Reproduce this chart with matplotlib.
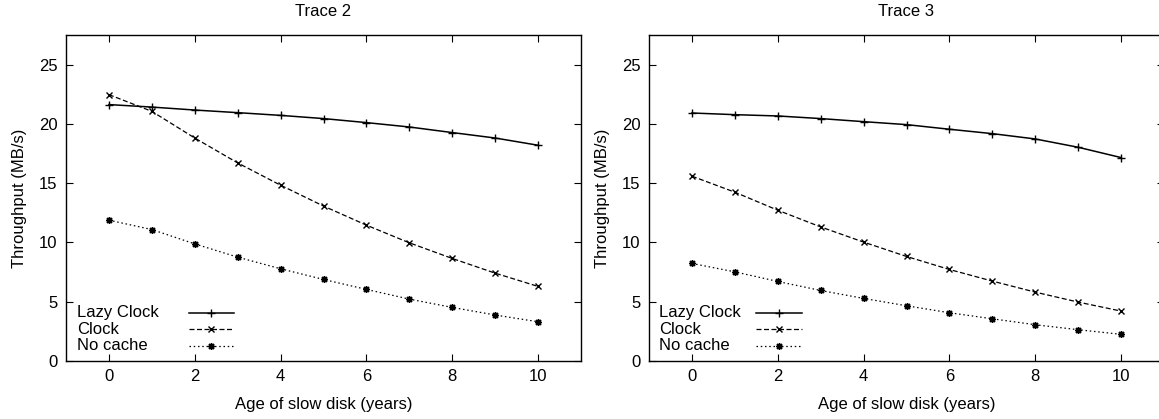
import matplotlib
matplotlib.use("Agg")
import matplotlib.pyplot as plt
from matplotlib.lines import Line2D

plt.rcParams['font.family'] = ['Liberation Sans', 'DejaVu Sans']

ages = [0, 1, 2, 3, 4, 5, 6, 7, 8, 9, 10]
series_names = ["Lazy Clock", "Clock", "No cache"]

trace2_lazy = [21.63, 21.42, 21.17, 20.95, 20.72, 20.45, 20.11, 19.74, 19.27, 18.81, 18.20]
trace2_clock = [22.47, 21.06, 18.81, 16.71, 14.83, 13.07, 11.46, 9.97, 8.65, 7.41, 6.29]
trace2_nocache = [11.88, 11.09, 9.88, 8.76, 7.78, 6.88, 6.04, 5.22, 4.52, 3.88, 3.31]

trace3_lazy = [20.92, 20.78, 20.67, 20.45, 20.19, 19.94, 19.55, 19.18, 18.73, 18.03, 17.16]
trace3_clock = [15.59, 14.24, 12.72, 11.31, 10.03, 8.82, 7.72, 6.74, 5.81, 4.97, 4.21]
trace3_nocache = [8.23, 7.52, 6.71, 5.95, 5.28, 4.66, 4.07, 3.56, 3.06, 2.64, 2.25]

titles = ["Trace 2", "Trace 3"]
xlabel = "Age of slow disk (years)"
ylabel = "Throughput (MB/s)"
xticks = [0, 2, 4, 6, 8, 10]
yticks = [0, 5, 10, 15, 20, 25]

W, H = 1159, 419
fig = plt.figure(figsize=(W / 100, H / 100), dpi=100)

FS = 12
star = (8, 2, 0)
styles = [
    dict(linestyle='-', marker='+', lw=1.1, ms=6, mew=1.0),
    dict(linestyle=(0, (4, 2)), marker='x', lw=0.9, ms=5, mew=1.0),
    dict(linestyle=(0, (1.2, 2.2)), marker=star, lw=0.9, ms=5, mew=1.0),
]

# axes boxes in pixels: (left, right)
boxes = [(66, 581), (649, 1164)]
top_px, bot_px = 35, 361
legend_specs = [
    dict(text_x=0.021, line=(0.239, 0.326)),
    dict(text_x=0.020, line=(0.208, 0.297)),
]
legend_rows = [0.148, 0.097, 0.047]

data = [
    [trace2_lazy, trace2_clock, trace2_nocache],
    [trace3_lazy, trace3_clock, trace3_nocache],
]

for i, (l, r) in enumerate(boxes):
    ax = fig.add_axes([l / W, 1 - bot_px / H, (r - l) / W, (bot_px - top_px) / H])
    for vals, st in zip(data[i], styles):
        ax.plot(ages, vals, color='black', **st)
    ax.set_xlim(-1, 11)
    ax.set_ylim(0, 27.5)
    ax.set_xticks(xticks)
    ax.set_yticks(yticks)
    ax.tick_params(direction='in', top=True, right=True, length=5, width=0.8,
                   labelsize=FS, colors='black', pad=6)
    for s in ax.spines.values():
        s.set_linewidth(1.0)
    ax.set_title(titles[i], fontsize=FS, pad=14)
    ax.set_xlabel(xlabel, fontsize=FS, labelpad=9)
    ax.set_ylabel(ylabel, fontsize=FS, labelpad=9)
    spec = legend_specs[i]
    for name, st, yy in zip(series_names, styles, legend_rows):
        ax.text(spec['text_x'], yy, name, transform=ax.transAxes, fontsize=FS,
                ha='left', va='center')
        x0, x1 = spec['line']
        ax.add_line(Line2D([x0, x1], [yy, yy], transform=ax.transAxes,
                           color='black', linestyle=st['linestyle'], lw=st['lw']))
        ax.add_line(Line2D([(x0 + x1) / 2], [yy], transform=ax.transAxes,
                           color='black', linestyle='none', marker=st['marker'],
                           ms=st['ms'], mew=st['mew']))

fig.savefig("out.png", dpi=100)
